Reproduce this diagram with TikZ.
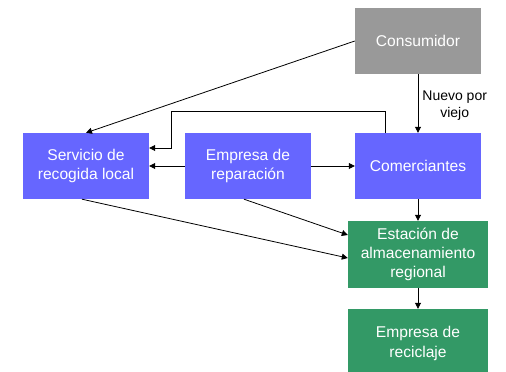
\documentclass[tikz,border=0pt]{standalone}
\usepackage{fontspec}
\setmainfont{Liberation Sans}
\usetikzlibrary{arrows.meta}
\definecolor{boxblue}{HTML}{6666FF}
\definecolor{boxgreen}{HTML}{339966}
\definecolor{boxgray}{HTML}{999999}
\begin{document}
\begin{tikzpicture}[x=1pt,y=-1pt,
    box/.style={draw=none,text=white,align=center,inner sep=0pt,
      minimum width=126pt,minimum height=66pt,
      font=\fontsize{15.6}{19.2}\selectfont},
    bluebox/.style={box,fill=boxblue},
    greenbox/.style={box,fill=boxgreen,minimum width=140pt},
    arr/.style={-{Triangle[length=6pt,width=6pt]},line width=0.8pt}]
    \useasboundingbox (0,0) rectangle (506,372);

    \node[box,fill=boxgray] (cons) at (418,41) {Consumidor};
    \node[bluebox] (serv) at (86,166) {Servicio de\\recogida local};
    \node[bluebox] (rep) at (248,166) {Empresa de\\reparación};
    \node[bluebox] (com) at (418,166) {Comerciantes};
    \node[greenbox,minimum height=67pt] (est) at (418,254.5) {Estación de\\almacenamiento\\regional};
    \node[greenbox,minimum height=69pt] (rec) at (418,343.5) {Empresa de\\reciclaje};

    \draw[arr] (cons.west) -- (serv.north);
    \draw[arr] (cons.south) -- (com.north)
      node[midway,right,align=center,inner sep=4pt,yshift=-2pt,font=\fontsize{14}{17.5}\selectfont] {Nuevo por\\viejo};
    \draw[arr] ([xshift=-33pt]com.north) |- (171,111) |- ([yshift=18pt]serv.east);
    \draw[arr] (rep.west) -- (serv.east);
    \draw[arr] (rep.east) -- (com.west);
    \draw[arr] ([xshift=-4pt]serv.south) -- ([yshift=-3.5pt]est.west);
    \draw[arr] ([xshift=-4pt]rep.south) -- ([yshift=19.5pt]est.west);
    \draw[arr] (com.south) -- (est.north);
    \draw[arr] (est.south) -- (rec.north);
  \end{tikzpicture}
\end{document}
